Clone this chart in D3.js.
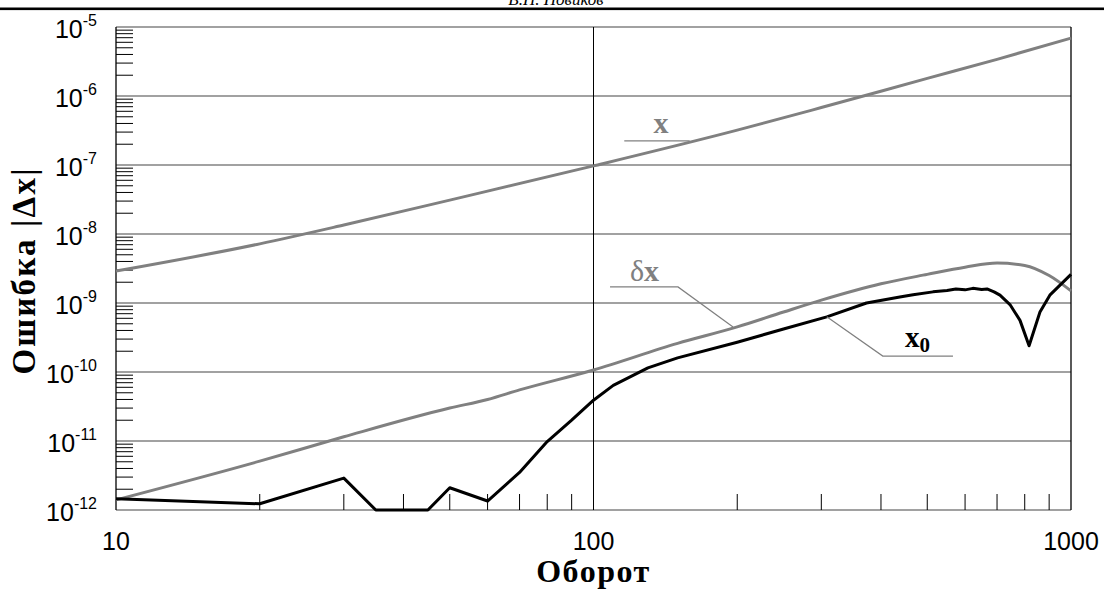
<!DOCTYPE html>
<html><head><meta charset="utf-8">
<script src="https://cdn.jsdelivr.net/npm/d3@7"></script>
<style>body{margin:0;background:#fff}svg{display:block}</style>
</head><body>
<svg id="c" width="1104" height="590"></svg>
<script>
// ---- data ----
const headerText = "В.Н. Новиков";
const xTitle = "Оборот";
const yTitle = "Ошибка |Δx|";
const xTickLabels = [10, 100, 1000];
const yDecades = [-12, -11, -10, -9, -8, -7, -6, -5];

const turnsX = [10, 20, 30, 50, 100, 200, 300, 500, 700, 1000];
const errX   = [2.9e-9, 7.2e-9, 1.35e-8, 3.1e-8, 9.7e-8, 3.2e-7, 6.8e-7, 1.8e-6, 3.4e-6, 6.9e-6];

const turnsDX = [10, 20, 30, 50, 60, 70, 100, 150, 200, 250, 300, 400, 500, 600, 700, 800, 900, 1000];
const errDX   = [1.4e-12, 5.1e-12, 1.15e-11, 3.0e-11, 4.0e-11, 5.5e-11, 1.07e-10, 2.6e-10, 4.5e-10, 7.4e-10, 1.1e-9, 1.9e-9, 2.6e-9, 3.3e-9, 3.8e-9, 3.5e-9, 2.5e-9, 1.5e-9];

const turnsX0 = [10, 20, 30, 35, 45, 50, 60, 70, 80, 90, 100, 110, 130, 150, 200, 250, 308, 373, 438, 467, 514, 550, 574, 600, 623, 650, 667, 690, 710, 745, 782, 817, 861, 903, 1000];
const errX0   = [1.45e-12, 1.23e-12, 2.9e-12, 1e-12, 1e-12, 2.1e-12, 1.35e-12, 3.5e-12, 9.8e-12, 2e-11, 3.9e-11, 6.4e-11, 1.15e-10, 1.6e-10, 2.7e-10, 4.2e-10, 6.3e-10, 1.0e-9, 1.22e-9, 1.32e-9, 1.45e-9, 1.52e-9, 1.6e-9, 1.55e-9, 1.63e-9, 1.57e-9, 1.6e-9, 1.45e-9, 1.3e-9, 9.5e-10, 5.6e-10, 2.4e-10, 7.4e-10, 1.3e-9, 2.6e-9];

// annotation anchors in data coordinates
const labelX   = {text: "x",  at: [138.5, 2.9e-7],  leader: [[116, 2.23e-7], [159, 2.23e-7]]};
const labelDX  = {at: [119.2, 2.08e-9], leader: [[108.3, 1.71e-9], [150.3, 1.71e-9], [196, 4.5e-10]]};
const labelX0  = {at: [449, 2.3e-10], leader: [[308, 6.3e-10], [403.5, 1.7e-10], [566, 1.7e-10]]};

// ---- layout ----
const L = 116, R = 1071, T = 27, B = 510;
const svg = d3.select("#c");
const x = d3.scaleLog().domain([10, 1000]).range([L, R]);
const y = d3.scaleLog().domain([1e-12, 1e-5]).range([B, T]);
const GRAY = "#808080";

// header
svg.append("text").attr("x", 556).attr("y", 5).attr("text-anchor", "middle")
  .attr("font-family", "Liberation Serif").attr("font-style", "italic").attr("font-size", 17)
  .attr("fill", "#000").text(headerText);
svg.append("rect").attr("x", 0).attr("y", 7.5).attr("width", 1104).attr("height", 2.6).attr("fill", "#000");

// horizontal gridlines
const g = svg.append("g");
yDecades.forEach(d => {
  const yy = y(Math.pow(10, d));
  g.append("line").attr("x1", L).attr("x2", R).attr("y1", yy).attr("y2", yy)
    .attr("stroke", "#444").attr("stroke-width", 1.2);
});
// vertical gridline at 100
g.append("line").attr("x1", x(100)).attr("x2", x(100)).attr("y1", T).attr("y2", B)
  .attr("stroke", "#000").attr("stroke-width", 1);
// frame
g.append("line").attr("x1", L).attr("x2", L).attr("y1", T).attr("y2", B).attr("stroke", "#000").attr("stroke-width", 1.3);
g.append("line").attr("x1", R).attr("x2", R).attr("y1", T).attr("y2", B).attr("stroke", "#000").attr("stroke-width", 1.3);

// y minor ticks
for (let d = -12; d < -5; d++) {
  for (let m = 2; m <= 9; m++) {
    const yy = y(m * Math.pow(10, d));
    g.append("line").attr("x1", L).attr("x2", L + 17).attr("y1", yy).attr("y2", yy)
      .attr("stroke", "#000").attr("stroke-width", 1);
  }
}
// x minor ticks
[1, 10].forEach(k => {
  for (let m = 2; m <= 9; m++) {
    const xx = x(m * 10 * k);
    g.append("line").attr("x1", xx).attr("x2", xx).attr("y1", B).attr("y2", B - 16)
      .attr("stroke", "#000").attr("stroke-width", 1);
  }
});

// y tick labels
yDecades.forEach(d => {
  const t = svg.append("text").attr("x", 97).attr("y", y(Math.pow(10, d)) + 11)
    .attr("text-anchor", "end").attr("font-family", "Liberation Sans").attr("fill", "#000");
  t.append("tspan").attr("font-size", 25).text("10");
  t.append("tspan").attr("font-size", 16).attr("dy", -12).text(String(d));
});
// x tick labels
xTickLabels.forEach(v => {
  svg.append("text").attr("x", x(v)).attr("y", 550).attr("text-anchor", "middle")
    .attr("font-family", "Liberation Sans").attr("font-size", 25).attr("fill", "#000").text(v);
});

// axis titles
svg.append("text").attr("x", x(100)).attr("y", 582).attr("text-anchor", "middle")
  .attr("font-family", "Liberation Serif").attr("font-weight", "bold").attr("font-size", 32)
  .attr("letter-spacing", 1.5).attr("fill", "#000").text(xTitle);
svg.append("text").attr("transform", "translate(35," + ((T + B) / 2 + 2) + ") rotate(-90)")
  .attr("text-anchor", "middle").attr("font-family", "Liberation Serif").attr("font-weight", "bold")
  .attr("font-size", 33).attr("letter-spacing", 2.2).attr("fill", "#000").text(yTitle);

// curves
const line = d3.line().x(d => x(d[0])).y(d => y(d[1]));
const lineSmooth = d3.line().x(d => x(d[0])).y(d => y(d[1])).curve(d3.curveMonotoneX);
svg.append("path").datum(d3.zip(turnsX, errX)).attr("d", lineSmooth)
  .attr("fill", "none").attr("stroke", GRAY).attr("stroke-width", 3);
svg.append("path").datum(d3.zip(turnsDX, errDX)).attr("d", lineSmooth)
  .attr("fill", "none").attr("stroke", GRAY).attr("stroke-width", 3);
svg.append("path").datum(d3.zip(turnsX0, errX0)).attr("d", line)
  .attr("fill", "none").attr("stroke", "#000").attr("stroke-width", 3).attr("stroke-linejoin", "round");

// annotations
const pl = d3.line().x(d => x(d[0])).y(d => y(d[1]));
[labelX, labelDX, labelX0].forEach(a => {
  svg.append("path").attr("d", pl(a.leader)).attr("fill", "none").attr("stroke", GRAY).attr("stroke-width", 1.2);
});
svg.append("text").attr("x", x(labelX.at[0])).attr("y", y(labelX.at[1])).attr("text-anchor", "middle")
  .attr("font-family", "Liberation Serif").attr("font-weight", "bold").attr("font-size", 30)
  .attr("fill", GRAY).text("x");
const tdx = svg.append("text").attr("x", x(labelDX.at[0])).attr("y", y(labelDX.at[1]))
  .attr("font-family", "Liberation Serif").attr("font-size", 30).attr("fill", GRAY);
tdx.append("tspan").text("δ");
tdx.append("tspan").attr("font-weight", "bold").text("x");
const tx0 = svg.append("text").attr("x", x(labelX0.at[0])).attr("y", y(labelX0.at[1]))
  .attr("font-family", "Liberation Serif").attr("font-weight", "bold").attr("font-size", 29).attr("fill", "#000");
tx0.append("tspan").text("x");
tx0.append("tspan").attr("font-size", 21).attr("dy", 5).text("0");
</script>
</body></html>
